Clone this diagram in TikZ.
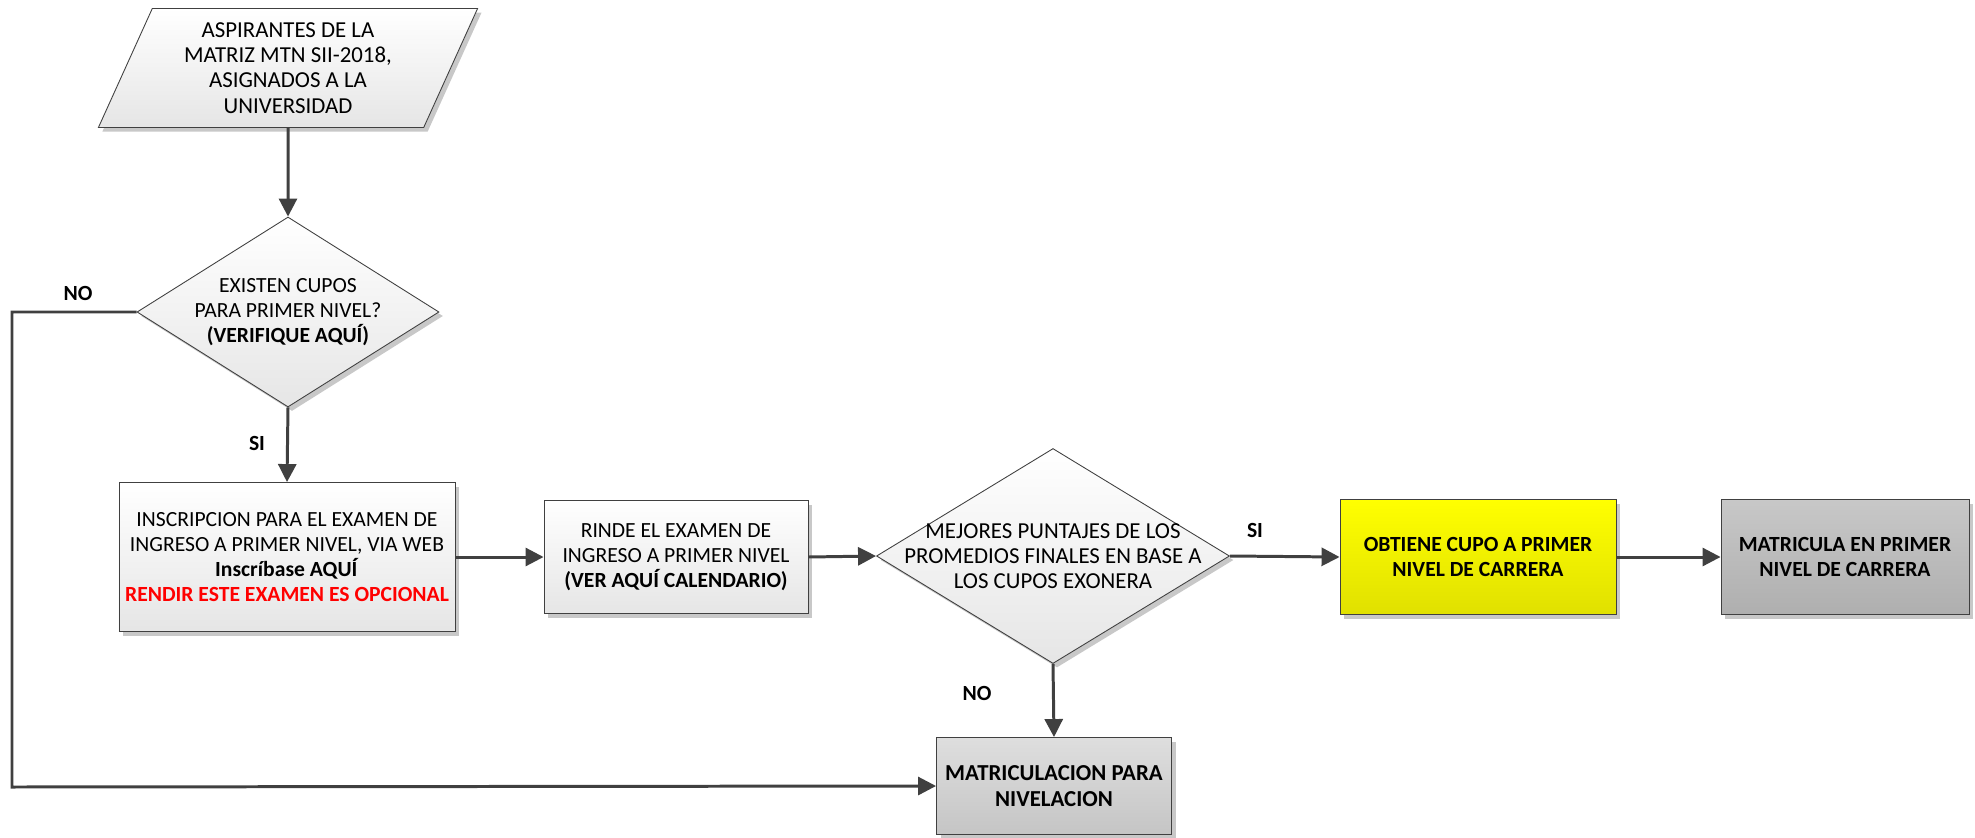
\documentclass[tikz,border=0pt]{standalone}
\usepackage{fontspec}
\setmainfont{Carlito}
\usetikzlibrary{shapes.geometric,arrows.meta,shadows}
\definecolor{linea}{HTML}{404040}
\definecolor{sombra}{HTML}{C8C8C8}
\definecolor{grisclaro}{HTML}{D6D6D6}
\definecolor{grisoscuro}{HTML}{BEBEBE}
\definecolor{amarillo}{HTML}{FFFF00}
\tikzset{
  base/.style={draw=linea, line width=0.5pt, align=center, inner sep=0pt,
    font=\fontsize{12.3}{14.2}\selectfont,
    drop shadow={shadow xshift=0.8mm, shadow yshift=-0.8mm, fill=sombra, opacity=1}},
  caja/.style={base, rectangle, top color=white, bottom color=black!10},
  datos/.style={base, trapezium, trapezium stretches=true,
    trapezium left angle=65.6, trapezium right angle=114.4,
    top color=white, bottom color=black!10},
  rombo/.style={base, diamond, aspect=1.6, top color=white, bottom color=black!10},
  texto/.style={align=center, inner sep=0pt, font=\fontsize{12.3}{14.2}\selectfont},
  grande/.style={font=\fontsize{13}{14.4}\selectfont},
  etiq/.style={inner sep=0pt, font=\fontsize{12.3}{14.2}\selectfont\bfseries},
  flecha/.style={draw=linea, line width=1.7pt, -{Triangle[length=3.6mm,width=3.6mm]}}
}
\begin{document}
\begin{tikzpicture}[x=0.2mm, y=-0.2mm]
  \useasboundingbox (0,0) rectangle (1975,838);
  \node[datos, grande, minimum width=76mm, minimum height=23.8mm] (aspir) at (288,68)
    {ASPIRANTES DE LA\\MATRIZ MTN SII-2018,\\ASIGNADOS A LA\\UNIVERSIDAD};
  \node[rombo, minimum width=60.4mm, minimum height=38mm] (existe) at (288,312) {};
  \node[texto] at (existe) {EXISTEN CUPOS\\PARA PRIMER NIVEL?\\\textbf{(VERIFIQUE AQUÍ)}};
  \node[caja, minimum width=67.2mm, minimum height=29.8mm] (inscr) at (287,557)
    {INSCRIPCION PARA EL EXAMEN DE\\INGRESO A PRIMER NIVEL, VIA WEB\\\textbf{Inscríbase AQUÍ}\\\textcolor{red}{\textbf{RENDIR ESTE EXAMEN ES OPCIONAL}}};
  \node[caja, minimum width=52.8mm, minimum height=22.6mm] (rinde) at (676,557)
    {RINDE EL EXAMEN DE\\INGRESO A PRIMER NIVEL\\\textbf{(VER AQUÍ CALENDARIO)}};
  \node[rombo, minimum width=70.6mm, minimum height=43mm] (mejor) at (1053,556) {};
  \node[texto, grande] at (mejor) {MEJORES PUNTAJES DE LOS\\PROMEDIOS FINALES EN BASE A\\LOS CUPOS EXONERA};
  \node[caja, top color=amarillo, bottom color=amarillo!88!black, minimum width=55.2mm, minimum height=23mm] (cupo) at (1478,557)
    {\textbf{OBTIENE CUPO A PRIMER}\\\textbf{NIVEL DE CARRERA}};
  \node[caja, top color=grisoscuro!85!white, bottom color=grisoscuro!92!black, minimum width=49.6mm, minimum height=23mm] (matric) at (1845,557)
    {\textbf{MATRICULA EN PRIMER}\\\textbf{NIVEL DE CARRERA}};
  \node[caja, grande, top color=grisclaro!80!white, bottom color=grisclaro!92!black, minimum width=47mm, minimum height=19.4mm] (nivel) at (1054,786)
    {\textbf{MATRICULACION PARA}\\\textbf{NIVELACION}};
  \coordinate (esq) at (12,787);
  \draw[flecha] (aspir.south) -- (existe.north);
  \draw[flecha] (existe.south) -- (inscr.north);
  \draw[flecha] (inscr.east) -- (rinde.west);
  \draw[flecha] (rinde.east) -- (mejor.west);
  \draw[flecha] (mejor.east) -- (cupo.west);
  \draw[flecha] (cupo.east) -- (matric.west);
  \draw[flecha] (mejor.south) -- (nivel.north);
  \draw[flecha] (existe.west) -| (esq) -- (nivel.west);
  \node[etiq] (no1) at (78,293) {NO};
  \node[etiq] (si1) at (257,443) {SI};
  \node[etiq] (si2) at (1255,530) {SI};
  \node[etiq] (no2) at (977,693) {NO};
\end{tikzpicture}
\end{document}
